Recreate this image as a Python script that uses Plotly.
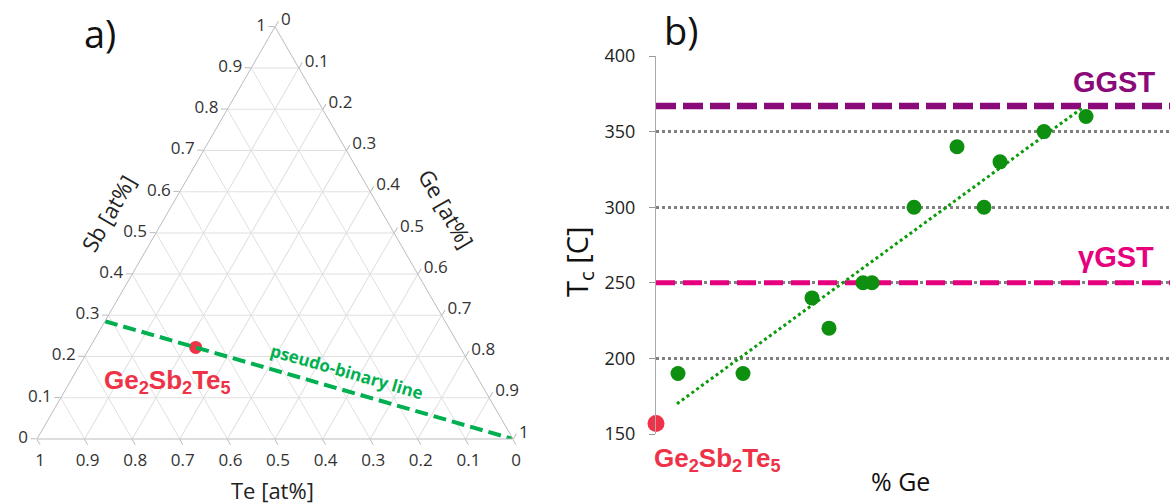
import plotly.graph_objects as go

# ---------------- data ----------------
# panel a) ternary (Sb, Te, Ge fractions)
gst_sb, gst_te, gst_ge = 2 / 9, 5 / 9, 2 / 9
pb_line_sb = [2 / 7, 0.0]
pb_line_te = [5 / 7, 0.0]
pb_line_ge = [0.0, 1.0]
tern_ticks = [0, 0.1, 0.2, 0.3, 0.4, 0.5, 0.6, 0.7, 0.8, 0.9, 1]
tern_ticklabels = ["0", "0.1", "0.2", "0.3", "0.4", "0.5", "0.6", "0.7", "0.8", "0.9", "1"]

# panel b) crystallization temperature vs % Ge
ge_pct = [24.4, 30.9, 37.8, 39.5, 42.9, 43.8, 48.0, 52.3, 55.0, 56.6, 61.0, 65.2]
tc_values = [190, 190, 240, 220, 250, 250, 300, 340, 300, 330, 350, 360]
gst_ge_pct = [22.2]
gst_tc = [157]
trend_x = [24.3, 64.9]
trend_y = [170, 366]
ggst_tc = 367
gamma_gst_tc = 250
x_range = [22.2, 73.6]
y_range = [150, 400]
y_ticks = [150, 200, 250, 300, 350, 400]

W, H = 1170, 504


def px(x):
    return x / W


def py(y):
    return 1 - y / H


fig = go.Figure()

# ---- ternary traces ----
fig.add_trace(go.Scatterternary(
    a=[gst_sb], b=[gst_te], c=[gst_ge], mode="markers",
    marker=dict(size=13, color="#EE3348"), cliponaxis=False, hoverinfo="skip"))
fig.add_trace(go.Scatterternary(
    a=pb_line_sb, b=pb_line_te, c=pb_line_ge, mode="lines",
    line=dict(color="#00B050", width=4, dash="13px,6px"), cliponaxis=False, hoverinfo="skip"))

# ---- panel b traces ----
fig.add_trace(go.Scatter(
    x=x_range, y=[ggst_tc, ggst_tc], mode="lines",
    line=dict(color="#8B0A7A", width=6.5, dash="20px,7px"), hoverinfo="skip"))
fig.add_trace(go.Scatter(
    x=x_range, y=[gamma_gst_tc, gamma_gst_tc], mode="lines",
    line=dict(color="#E6007E", width=5, dash="19px,8px"), hoverinfo="skip"))
fig.add_trace(go.Scatter(
    x=trend_x, y=trend_y, mode="lines",
    line=dict(color="#0A9A0A", width=3, dash="dot"), hoverinfo="skip"))
fig.add_trace(go.Scatter(
    x=ge_pct, y=tc_values, mode="markers",
    marker=dict(size=15, color="#0F8F0F"), hoverinfo="skip"))
fig.add_trace(go.Scatter(
    x=gst_ge_pct, y=gst_tc, mode="markers", cliponaxis=False,
    marker=dict(size=17, color="#EE3348"), hoverinfo="skip"))

tern_axis = dict(
    title=dict(text=""), tickmode="array", tickvals=tern_ticks, ticktext=tern_ticklabels,
    ticks="outside", ticklen=6, tickcolor="#BBBBBB",
    linecolor="#BBBBBB", linewidth=1, gridcolor="#E0E0E0", gridwidth=1,
    tickfont=dict(family="Open Sans", size=17, color="#333333"), showgrid=True, min=0)

fig.update_layout(
    width=W, height=H, margin=dict(l=0, r=0, t=0, b=0, autoexpand=False),
    paper_bgcolor="white", plot_bgcolor="white", showlegend=False,
    ternary=dict(
        sum=1, bgcolor="white",
        domain=dict(x=[37 / W, 513 / W], y=[0.12, 0.9558]),
        aaxis=tern_axis, baxis=tern_axis, caxis=tern_axis),
    xaxis=dict(domain=[656 / W, 1.0], range=x_range, showticklabels=False,
               showgrid=False, zeroline=False, showline=False, ticks=""),
    yaxis=dict(domain=[py(434), py(56)], range=y_range, tickvals=y_ticks,
               showgrid=True, gridcolor="#808080", gridwidth=2.5, griddash="dot",
               zeroline=False, showline=True, linecolor="#AAAAAA", linewidth=1,
               ticks="outside", ticklen=6, tickcolor="#999999",
               ticklabelstandoff=10,
               tickfont=dict(family="Open Sans", size=18, color="#222222")),
)

ann = []
# panel letters
ann.append(dict(x=px(100), y=py(33), text="a)", font=dict(family="Open Sans", size=38, color="#111111")))
ann.append(dict(x=px(681), y=py(30), text="b)", font=dict(family="Open Sans", size=38, color="#111111")))
# ternary axis titles
ann.append(dict(x=px(108), y=py(213), text="Sb [at%]", textangle=-60,
                font=dict(family="Open Sans", size=22, color="#222222")))
ann.append(dict(x=px(447), y=py(209), text="Ge [at%]", textangle=60,
                font=dict(family="Open Sans", size=22, color="#222222")))
ann.append(dict(x=px(272), y=py(490), text="Te [at%]",
                font=dict(family="Open Sans", size=22, color="#222222")))
# ternary annotations
ann.append(dict(x=px(167), y=py(381), text="<b>Ge<sub>2</sub>Sb<sub>2</sub>Te<sub>5</sub></b>",
                font=dict(family="Liberation Sans", size=26, color="#EE3348")))
ann.append(dict(x=px(347), y=py(371), text="<b>pseudo-binary line</b>", textangle=16,
                font=dict(family="Open Sans", size=17, color="#00B050")))
# panel b texts
ann.append(dict(x=px(578), y=py(262), text="T<sub>c</sub> [C]", textangle=-90,
                font=dict(family="Open Sans", size=29, color="#111111")))
ann.append(dict(x=px(900), y=py(481), text="% Ge",
                font=dict(family="Open Sans", size=25, color="#111111")))
ann.append(dict(x=px(717), y=py(459), text="<b>Ge<sub>2</sub>Sb<sub>2</sub>Te<sub>5</sub></b>",
                font=dict(family="Liberation Sans", size=26, color="#EE3348")))
ann.append(dict(x=px(1114), y=py(82), text="<b>GGST</b>",
                font=dict(family="Liberation Sans", size=29, color="#8B0A7A")))
ann.append(dict(x=px(1116), y=py(257), text="<b>γGST</b>",
                font=dict(family="Liberation Sans", size=29, color="#E6007E")))

for a in ann:
    a.update(xref="paper", yref="paper", showarrow=False, xanchor="center", yanchor="middle")
fig.update_layout(annotations=ann)

fig.write_html("out.html", config={"displayModeBar": False},
               post_script="document.body.style.margin='0';document.body.style.padding='0';")
